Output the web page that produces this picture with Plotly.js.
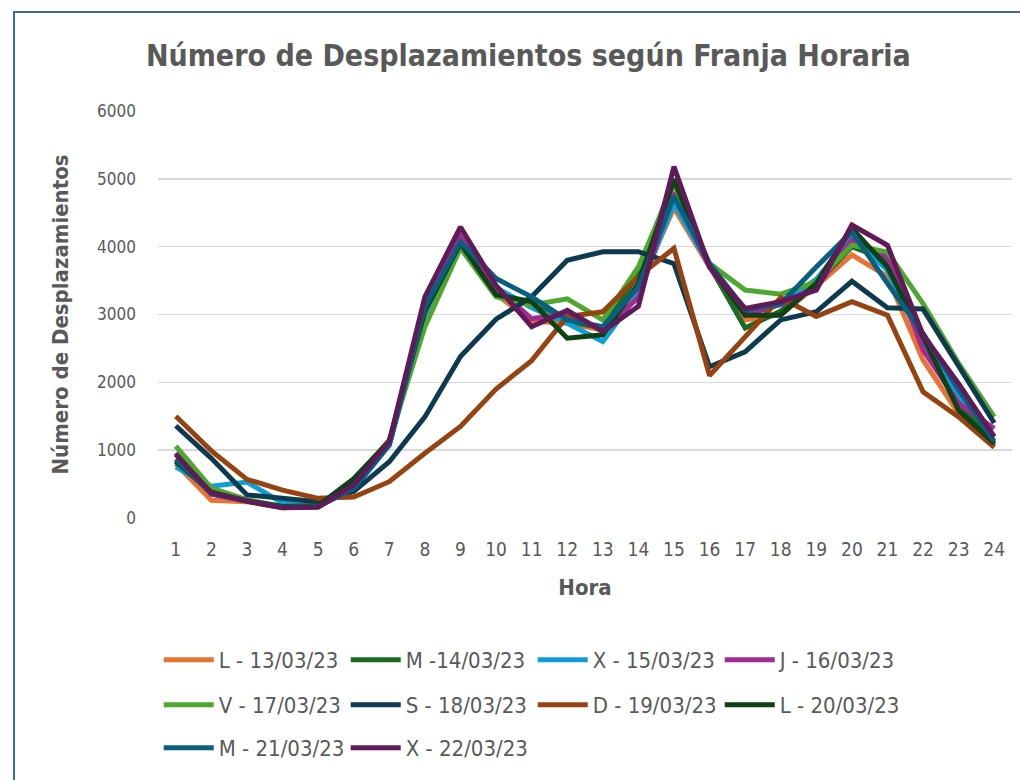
<!DOCTYPE html>
<html>
<head>
<meta charset="utf-8">
<script src="https://cdn.plot.ly/plotly-3.0.1.min.js"></script>
<style>
html,body{margin:0;padding:0;background:#fff;}
#chart{width:1020px;height:780px;position:absolute;left:0;top:0;}
#frame{position:absolute;left:13px;top:11px;width:1010px;height:775px;border-left:2px solid #3C6E94;border-top:2px solid #3C6E94;pointer-events:none;}
</style>
</head>
<body>
<div id="chart"></div>
<div id="frame"></div>
<script>
const hours = [1,2,3,4,5,6,7,8,9,10,11,12,13,14,15,16,17,18,19,20,21,22,23,24];
const seriesNames = ["L - 13/03/23","M -14/03/23","X - 15/03/23","J - 16/03/23","V - 17/03/23","S - 18/03/23","D - 19/03/23","L - 20/03/23","M - 21/03/23","X - 22/03/23"];
const seriesColors = ["#E97132","#196B24","#0F9ED5","#A02B93","#4EA72E","#0D3A4F","#964311","#0F4016","#095F80","#601A58"];

const L13 = [800,260,240,150,170,450,1100,2950,4050,3300,2900,2870,2770,3400,4570,3700,2920,3000,3420,3880,3560,2330,1540,1050];
const M14 = [850,380,250,170,180,560,1130,3050,4050,3290,3150,2900,2800,3600,5000,3720,2800,3050,3450,4000,3800,2650,1700,1080];
const X15 = [750,470,530,220,190,420,1080,3000,4050,3400,3100,2870,2600,3310,4640,3720,3030,3150,3520,4150,3650,2600,1800,1200];
const J16 = [960,350,250,160,170,450,1120,3100,4150,3400,2940,3000,2770,3250,4800,3700,2990,3150,3400,4100,3850,2480,1690,1320];
const V17 = [1060,440,270,170,180,540,1150,2820,3980,3260,3140,3230,2920,3700,4930,3750,3360,3300,3480,4020,3920,3160,2280,1490];
const S18 = [1360,880,340,295,240,390,830,1490,2380,2930,3260,3800,3925,3925,3750,2230,2450,2920,3040,3490,3100,3080,2230,1400];
const D19 = [1500,990,570,410,290,310,535,955,1350,1900,2320,2970,3040,3560,3975,2100,2670,3250,2970,3190,2990,1860,1490,1040];
const L20 = [830,380,250,170,180,580,1130,3050,4050,3290,3190,2650,2700,3460,4980,3720,2990,2990,3460,4270,3700,2670,1590,1100];
const M21 = [870,360,250,160,170,440,1075,3115,4070,3530,3260,2920,2820,3410,4740,3750,3070,3160,3700,4220,3460,2720,1890,1130];
const X22 = [940,370,250,150,160,490,1125,3260,4290,3430,2820,3060,2750,3120,5180,3700,3090,3190,3360,4320,4020,2700,1980,1200];

const allSeries = [L13,M14,X15,J16,V17,S18,D19,L20,M21,X22];
const legendIds = ["legend","legend","legend","legend","legend2","legend2","legend2","legend2","legend3","legend3"];

const FONT = '"Liberation Sans Narrow","DejaVu Sans Condensed","Liberation Sans",sans-serif';
const GREY = '#595959';

const traces = allSeries.map((vals,i)=>({
  type:'scatter', mode:'lines', x:hours, y:vals, name:seriesNames[i],
  line:{color:seriesColors[i], width:5, shape:'linear'},
  legend:legendIds[i]
}));

const legBase = {orientation:'h', xanchor:'left', yanchor:'middle', entrywidth:122, entrywidthmode:'pixels',
  font:{family:FONT, size:22, color:GREY}, bgcolor:'rgba(0,0,0,0)', itemwidth:50, tracegroupgap:0};

const layout = {
  width:1020, height:780,
  margin:{l:158, r:8, t:111, b:262},
  paper_bgcolor:'#fff', plot_bgcolor:'#fff',
  font:{family:FONT, color:GREY},
  title:{text:'<b>Número de Desplazamientos según Franja Horaria</b>', xref:'container', yref:'container', x:0.518, xanchor:'center', y:1-55/780, yanchor:'middle', font:{family:FONT, size:30, color:GREY}},
  xaxis:{range:[0.5,24.5], tickmode:'array', tickvals:hours, ticktext:hours.map(String), showgrid:false, zeroline:false, showline:false, ticks:'',
    tickfont:{family:FONT, size:19, color:GREY}, ticklabelstandoff:18,
    title:{text:'<b>Hora</b>', font:{family:FONT, size:22, color:GREY}, standoff:20}},
  yaxis:{range:[0,6000], tickvals:[0,1000,2000,3000,4000,5000,6000], showgrid:true, gridcolor:'#D9D9D9', gridwidth:1.5, zeroline:false, showline:false, ticks:'',
    tickfont:{family:FONT, size:17, color:GREY}, ticklabelstandoff:21,
    title:{text:'<b>Número de Desplazamientos</b>', font:{family:FONT, size:22, color:GREY}, standoff:22}},
  legend:Object.assign({}, legBase, {x:(163-158)/854 - 0.005, y:(518-660)/407}),
  legend2:Object.assign({}, legBase, {x:(163-158)/854 - 0.005, y:(518-705)/407}),
  legend3:Object.assign({}, legBase, {x:(163-158)/854 - 0.005, y:(518-748)/407}),
  showlegend:true
};

Plotly.newPlot('chart', traces, layout, {displayModeBar:false, staticPlot:true});
</script>
</body>
</html>
